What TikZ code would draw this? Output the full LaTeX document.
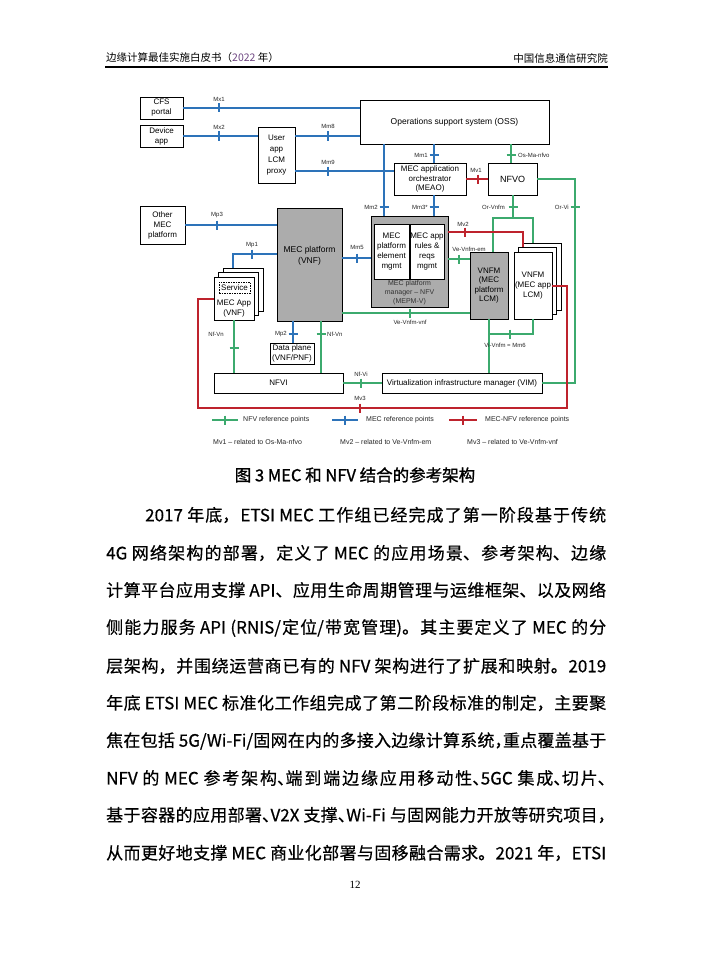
\documentclass[tikz,border=0pt]{standalone}
\usepackage{fontspec}
\setmainfont{Liberation Sans}
\newfontfamily\cjk{Noto Sans CJK SC}
\newfontfamily\cjkm[FakeBold=0.5]{Noto Sans CJK SC}
\newfontfamily\cjkc[FakeBold=1.2]{Noto Sans CJK SC}
\newfontfamily\tms{Liberation Serif}
\definecolor{cgr}{RGB}{60,170,110}
\definecolor{cbl}{RGB}{45,115,185}
\definecolor{crd}{RGB}{190,35,45}
\definecolor{cgy}{RGB}{172,172,172}
\definecolor{hpur}{RGB}{110,70,130}
\newcommand\mybxf{\fontsize{8}{10}\selectfont}
\newcommand\mylbf{\fontsize{6}{7}\selectfont}
\newcommand\mylgf{\fontsize{7}{8}\selectfont}
\newcommand\tv[3]{\draw[#1,line width=1.2pt] (#2,#3-4.5) -- (#2,#3+4.5);}
\newcommand\tkh[3]{\draw[#1,line width=1.2pt] (#2-4.5,#3) -- (#2+4.5,#3);}
\newcommand\myline[1]{\parbox{500pt}{\XeTeXlinebreaklocale "zh"\XeTeXlinebreakskip=0pt plus 4pt minus 0.8pt\relax\tolerance=10000\parfillskip=0pt\parindent=0pt\cjkm\fontsize{17}{20}\selectfont #1}}
\newcommand\hwp[1]{\makebox[0.5em][l]{#1}}
\begin{document}
\begin{tikzpicture}[x=1pt,y=-1pt,
  box/.style={draw=black,line width=0.8pt,fill=white,inner sep=0pt,align=center,font=\mybxf},
  gbox/.style={box,fill=cgy},
  lab/.style={inner sep=0pt,font=\mylbf,text=black!85},
  gl/.style={draw=cgr,line width=1.1pt},
  bll/.style={draw=cbl,line width=1.1pt},
  rl/.style={draw=crd,line width=1.1pt},
  leg/.style={inner sep=0pt,anchor=west,font=\mylgf,text=black!85},
  body/.style={inner sep=0pt,anchor=west}]
\fill[white] (0,0) rectangle (710,963);
\useasboundingbox (0,0) rectangle (710,963);

% header
\node[anchor=west,inner sep=0pt] (hl) at (106,58) {\cjk\fontsize{10.5}{13}\selectfont 边缘计算最佳实施白皮书（{\color{hpur}2022} 年）};
\node[anchor=east,inner sep=0pt] (hr) at (608,58) {\cjk\fontsize{10.5}{13}\selectfont 中国信息通信研究院};
\draw[line width=1.3pt] (105,67) -- (608,67);

% helper coordinates
\coordinate (y171) at (0,171);
\coordinate (y254) at (0,254);
\coordinate (y258) at (0,258);
\coordinate (y259) at (0,259);
\coordinate (y232) at (0,232);
\coordinate (y218) at (0,218);
\coordinate (y286) at (0,286);
\coordinate (y299) at (0,299);
\coordinate (y313) at (0,313);
\coordinate (y334) at (0,334);
\coordinate (y408) at (0,408);
\coordinate (x198) at (198,0);
\coordinate (x233) at (233,0);
\coordinate (x293) at (293,0);
\coordinate (x321) at (321,0);
\coordinate (x384) at (384,0);
\coordinate (x434) at (434,0);
\coordinate (x493) at (493,0);
\coordinate (x511) at (511,0);
\coordinate (x513) at (513,0);
\coordinate (x523) at (523,0);
\coordinate (x533) at (533,0);
\coordinate (x567) at (567,0);
\coordinate (x575) at (575,0);

% boxes
\node[box,minimum width=43pt,minimum height=22pt] (cfs) at (161.5,108) {CFS\\portal};
\node[box,minimum width=43pt,minimum height=22pt] (dev) at (161.5,136) {Device\\app};
\node[box,minimum width=37pt,minimum height=56pt,font=\fontsize{8}{11}\selectfont] (proxy) at (276.5,155) {User\\app\\LCM\\proxy};
\node[box,minimum width=45pt,minimum height=38pt] (other) at (162.5,225) {Other\\MEC\\platform};
\node[box,minimum width=189pt,minimum height=44pt,font=\fontsize{8.5}{10}\selectfont] (oss) at (454.5,122) {Operations support system (OSS)};
\node[box,minimum width=72pt,minimum height=32pt,font=\fontsize{8}{9.5}\selectfont] (meao) at (430,179) {MEC application\\orchestrator\\(MEAO)};
\node[box,minimum width=49pt,minimum height=32pt,font=\fontsize{9}{10}\selectfont] (nfvo) at (512.5,179) {NFVO};
\node[gbox,minimum width=65pt,minimum height=113pt,font=\fontsize{8.5}{11}\selectfont] (mecp) at (309.5,264.5) {MEC platform\\(VNF)\\[8pt]};
\node[gbox,minimum width=77pt,minimum height=91pt] (mepm) at (409.5,261.5) {};
\node[box,minimum width=35pt,minimum height=55pt] (pem) at (391.5,251.5) {MEC\\platform\\element\\mgmt};
\node[box,minimum width=34pt,minimum height=55pt] (arm) at (427,251.5) {MEC app\\rules \&\\reqs\\mgmt};
\node[inner sep=0pt,align=center,font=\fontsize{7}{9}\selectfont,text=black!80] (mepml) at (409.5,293) {MEC platform\\manager -- NFV\\(MEPM-V)};
\node[gbox,minimum width=38pt,minimum height=67pt,font=\fontsize{8}{9.5}\selectfont] (vnfmp) at (489,285.5) {VNFM\\(MEC\\platform\\LCM)};
\node[box,minimum width=38pt,minimum height=67pt] (vnfma3) at (542,276.5) {};
\node[box,minimum width=38pt,minimum height=67pt] (vnfma2) at (537.5,281) {};
\node[box,minimum width=38pt,minimum height=67pt] (vnfma) at (533,285.5) {VNFM\\(MEC app\\LCM)};
\node[box,minimum width=40pt,minimum height=43pt] (app3) at (243,289.5) {};
\node[box,minimum width=40pt,minimum height=43pt] (app2) at (238.5,294) {};
\node[box,minimum width=40pt,minimum height=43pt] (app) at (234,298.5) {};
\node[box,dash pattern=on 1.5pt off 1pt,line width=0.6pt,minimum width=31pt,minimum height=11pt] (svc) at (234.5,287.5) {Service};
\node[inner sep=0pt,align=center,font=\mybxf] (appl) at (234,308.5) {MEC App\\(VNF)};
\node[box,minimum width=44pt,minimum height=21pt] (dp) at (292,353.5) {Data plane\\(VNF/PNF)};
\node[box,minimum width=129pt,minimum height=20pt] (nfvi) at (278.5,383) {NFVI};
\node[box,minimum width=160pt,minimum height=20pt] (vim) at (462,383) {Virtualization infrastructure manager (VIM)};

% blue MEC reference points
\draw[bll] (cfs.east) -- (cfs.east -| oss.west);
\draw[bll] (dev.east) -- (dev.east -| proxy.west);
\draw[bll] (dev.east -| proxy.east) -- (dev.east -| oss.west);
\draw[bll] (proxy.east |- y171) -- (meao.west |- y171);
\draw[bll] (other.east) -- (other.east -| mecp.west);
\draw[bll] (mecp.west |- y254) -- (x233 |- y254) -- (x233 |- app3.north);
\draw[bll] (oss.south -| x384) -- (mepm.north -| x384);
\draw[bll] (oss.south -| x434) -- (meao.north -| x434);
\draw[bll] (meao.south -| x434) -- (mepm.north -| x434);
\draw[bll] (mecp.east |- y258) -- (mepm.west |- y258);
\draw[bll] (mecp.south -| x293) -- (dp.north -| x293);

% green NFV reference points
\draw[gl] (oss.south -| x511) -- (nfvo.north -| x511);
\draw[gl] (nfvo.south -| x513) -- (x513 |- y218);
\draw[gl] (vnfmp.north -| x493) -- (x493 |- y218) -- (x533 |- y218) -- (vnfma3.north -| x533);
\draw[gl] (nfvo.east) -- (x575 |- nfvo.east) -- (x575 |- vim.east) -- (vim.east);
\draw[gl] (mepm.east |- y259) -- (vnfmp.west |- y259);
\draw[gl] (mecp.east |- y313) -- (vnfmp.west |- y313);
\draw[gl] (vnfmp.south) -- (vnfmp.south |- vim.north);
\draw[gl] (vnfmp.south |- y334) -- (vnfma.south |- y334) -- (vnfma.south);
\draw[gl] (app.south) -- (app.south |- nfvi.north);
\draw[gl] (mecp.south -| x321) -- (nfvi.north -| x321);
\draw[gl] (nfvi.east) -- (vim.west);

% red MEC-NFV reference points
\draw[rl] (meao.east) -- (nfvo.west);
\draw[rl] (mepm.east |- y232) -- (x523 |- y232) -- (vnfma2.north -| x523);
\draw[rl] (vnfma.east |- y286) -- (x567 |- y286) -- (x567 |- y408) -- (x198 |- y408) -- (x198 |- y299) -- (app.west |- y299);

% ticks
\tv{cbl}{219}{108} \tv{cbl}{219}{136} \tv{cbl}{328}{136} \tv{cbl}{328}{171}
\tv{cbl}{217}{225} \tv{cbl}{252}{254} \tv{cbl}{357}{258}
\tkh{cbl}{434}{155} \tkh{cbl}{384}{207} \tkh{cbl}{434}{207} \tkh{cbl}{293}{334}
\tkh{cgr}{511}{155} \tkh{cgr}{513}{207} \tkh{cgr}{575}{207}
\tv{cgr}{459}{259} \tv{cgr}{410}{313} \tv{cgr}{510}{334}
\tkh{cgr}{234}{348} \tkh{cgr}{321}{334} \tv{cgr}{361}{383}
\tv{crd}{478}{179} \tv{crd}{465}{232} \tv{crd}{360}{408}

% labels
\node[lab] (lmx1) at (219,99) {Mx1};
\node[lab] (lmx2) at (219,127) {Mx2};
\node[lab] (lmm8) at (328,126) {Mm8};
\node[lab] (lmm9) at (328,162) {Mm9};
\node[lab] (lmp3) at (217,215) {Mp3};
\node[lab] (lmp1) at (252,245) {Mp1};
\node[lab] (lmm5) at (357,247) {Mm5};
\node[lab,anchor=east] (lmm1) at (428,155) {Mm1};
\node[lab,anchor=west] (losma) at (518,155) {Os-Ma-nfvo};
\node[lab,anchor=east] (lmm2) at (378,207) {Mm2};
\node[lab,anchor=east] (lmm3) at (428,207) {Mm3*};
\node[lab] (lmv1) at (476,170) {Mv1};
\node[lab,anchor=east] (lorv) at (505,207) {Or-Vnfm};
\node[lab,anchor=east] (lorvi) at (569,207) {Or-Vi};
\node[lab] (lmv2) at (463,224) {Mv2};
\node[lab] (lvem) at (469,249) {Ve-Vnfm-em};
\node[lab] (lvvnf) at (410,322) {Ve-Vnfm-vnf};
\node[lab] (lvivn) at (505,345) {Vi-Vnfm = Mm6};
\node[lab,anchor=east] (lnfvn1) at (224,334) {Nf-Vn};
\node[lab,anchor=east] (lmp2) at (287,334) {Mp2};
\node[lab,anchor=west] (lnfvn2) at (327,334) {Nf-Vn};
\node[lab] (lnfvi) at (361,374) {Nf-Vi};
\node[lab] (lmv3) at (360,398) {Mv3};

% legend
\coordinate (lg1a) at (212,420); \coordinate (lg1b) at (238,420);
\coordinate (lg2a) at (332,420); \coordinate (lg2b) at (358,420);
\coordinate (lg3a) at (449,420); \coordinate (lg3b) at (477,420);
\draw[gl] (lg1a) -- (lg1b); \tv{cgr}{225}{420}
\draw[bll] (lg2a) -- (lg2b); \tv{cbl}{345}{420}
\draw[rl] (lg3a) -- (lg3b); \tv{crd}{463}{420}
\node[leg] (lgt1) at (243,420) {NFV reference points};
\node[leg] (lgt2) at (366,420) {MEC reference points};
\node[leg] (lgt3) at (485,420) {MEC-NFV reference points};
\node[leg] (lgr1) at (213,442) {Mv1 -- related to Os-Ma-nfvo};
\node[leg] (lgr2) at (340,442) {Mv2 -- related to Ve-Vnfm-em};
\node[leg] (lgr3) at (467,442) {Mv3 -- related to Ve-Vnfm-vnf};

% caption
\node[inner sep=0pt] (cap) at (355,475) {\cjkc\fontsize{16.5}{19}\selectfont 图 3 MEC 和 NFV 结合的参考架构};

% body text
\node[body] (b1) at (106,515) {\myline{\hspace*{39pt}2017 年底，ETSI MEC 工作组已经完成了第一阶段基于传统}};
\node[body] (b2) at (106,553) {\myline{4G 网络架构的部署，定义了 MEC 的应用场景、参考架构、边缘}};
\node[body] (b3) at (106,590) {\myline{计算平台应用支撑 API、应用生命周期管理与运维框架、以及网络}};
\node[body] (b4) at (106,628) {\myline{侧能力服务 API (RNIS/定位/带宽管理)。其主要定义了 MEC 的分}};
\node[body] (b5) at (106,666) {\myline{层架构，并围绕运营商已有的 NFV 架构进行了扩展和映射。2019}};
\node[body] (b6) at (106,703) {\myline{年底 ETSI MEC 标准化工作组完成了第二阶段标准的制定，主要聚}};
\node[body] (b7) at (106,741) {\myline{焦在包括 5G/Wi-Fi/固网在内的多接入边缘计算系统\hwp{，}重点覆盖基于}};
\node[body] (b8) at (106,778) {\myline{NFV 的 MEC 参考架构\hwp{、}端到端边缘应用移动性\hwp{、}5GC 集成\hwp{、}切片\hwp{、}}};
\node[body] (b9) at (106,815) {\myline{基于容器的应用部署\hwp{、}V2X 支撑\hwp{、}Wi-Fi 与固网能力开放等研究项目\hwp{，}}};
\node[body] (b10) at (106,853) {\myline{从而更好地支撑 MEC 商业化部署与固移融合需求。2021 年，ETSI}};

\node[inner sep=0pt] (pg) at (355,885) {\tms\fontsize{11}{13}\selectfont 12};
\end{tikzpicture}
\end{document}
